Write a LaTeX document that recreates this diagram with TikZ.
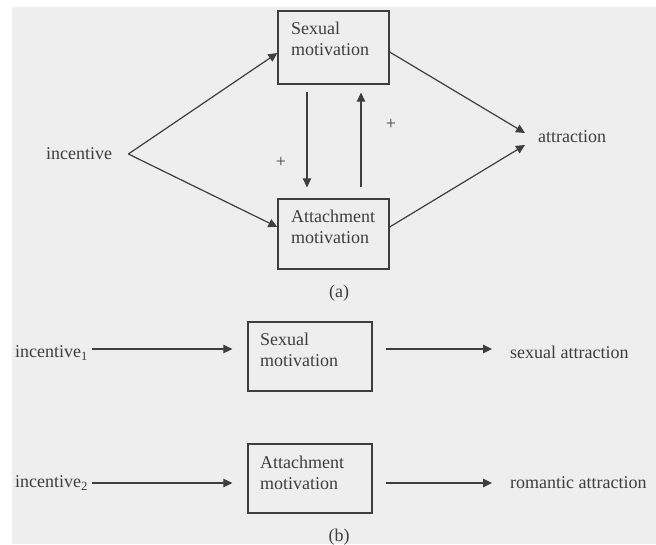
\documentclass[tikz,border=0pt]{standalone}
\usepackage{fontspec}
\setmainfont{Liberation Serif}
\usetikzlibrary{arrows.meta}
\definecolor{bgc}{RGB}{238,238,238}
\definecolor{ink}{RGB}{62,62,62}
\definecolor{txt}{RGB}{62,62,62}
\begin{document}
\begin{tikzpicture}[x=1pt,y=-1pt,
  lbl/.style={font=\fontsize{18}{21}\selectfont, text=txt, inner sep=0pt},
  box/.style={draw=ink, line width=1.3pt, inner sep=0pt},
  conn/.style={draw=ink, line width=1.2pt, -{Triangle[length=9pt,width=8.5pt]}},
]
\useasboundingbox (0,0) rectangle (656,544);
\fill[bgc] (12,7) rectangle (656,544);

% ---------- (a) ----------
\node[box, minimum width=111pt, minimum height=73pt] (sm) at (333.5,47.5) {};
\node[lbl, align=left, anchor=west] (smt) at (291,39) {Sexual\\motivation};
\node[box, minimum width=111pt, minimum height=70pt] (am) at (333.5,234) {};
\node[lbl, align=left, anchor=west] (amt) at (291,227) {Attachment\\motivation};
\node[lbl, anchor=west] (inc) at (46,154) {incentive};
\node[lbl, anchor=west] (att) at (538,137) {attraction};
\coordinate (incp) at ([xshift=16pt]inc.east);

\draw[conn] (incp) -- ([yshift=-5.5pt]sm.west);
\draw[conn] (incp) -- ([yshift=7pt]am.west);
\draw[conn] ([yshift=-4.5pt]sm.east) -- ([xshift=-13pt,yshift=4pt]att.west);
\draw[conn] ([yshift=7pt]am.east) -- ([xshift=-13pt,yshift=-8pt]att.west);
\draw[conn] ([xshift=-26.5pt,yshift=-7pt]sm.south) -- ([xshift=-26.5pt,yshift=11pt]am.north);
\draw[conn] ([xshift=27.5pt,yshift=11pt]am.north) -- ([xshift=27.5pt,yshift=-8pt]sm.south);

\node[lbl] (p1) at (281,162) {+};
\node[lbl] (p2) at (391,124) {+};
\node[lbl] (la) at (339,293) {(a)};

% ---------- (b) ----------
\node[box, minimum width=124pt, minimum height=69pt] (sm2) at (310,356.5) {};
\node[lbl, align=left, anchor=west] (sm2t) at (260,350) {Sexual\\motivation};
\node[box, minimum width=124pt, minimum height=69pt] (am2) at (310,478.5) {};
\node[lbl, align=left, anchor=west] (am2t) at (260,472.5) {Attachment\\motivation};
\node[lbl, anchor=west] (i1) at (15,353) {incentive\textsubscript{1}};
\node[lbl, anchor=west] (i2) at (15,483) {incentive\textsubscript{2}};
\node[lbl, anchor=west] (sa) at (510,352) {sexual attraction};
\node[lbl, anchor=west] (ra) at (510,483) {romantic attraction};

\coordinate (s2in) at ([xshift=-15pt,yshift=7.5pt]sm2.west);
\coordinate (s2out) at ([xshift=13pt,yshift=7.5pt]sm2.east);
\coordinate (a2in) at ([xshift=-15pt,yshift=-4.5pt]am2.west);
\coordinate (a2out) at ([xshift=13pt,yshift=-4.5pt]am2.east);
\coordinate (i1p) at (i1.east |- s2in);
\coordinate (i2p) at (i2.east |- a2in);
\coordinate (sap) at (sa.west |- s2out);
\coordinate (rap) at (ra.west |- a2out);

\draw[conn] ([xshift=4pt]i1p) -- (s2in);
\draw[conn] (s2out) -- ([xshift=-18pt]sap);
\draw[conn] ([xshift=4pt]i2p) -- (a2in);
\draw[conn] (a2out) -- ([xshift=-18pt]rap);

\node[lbl] (lb) at (339,537) {(b)};
\end{tikzpicture}
\end{document}
